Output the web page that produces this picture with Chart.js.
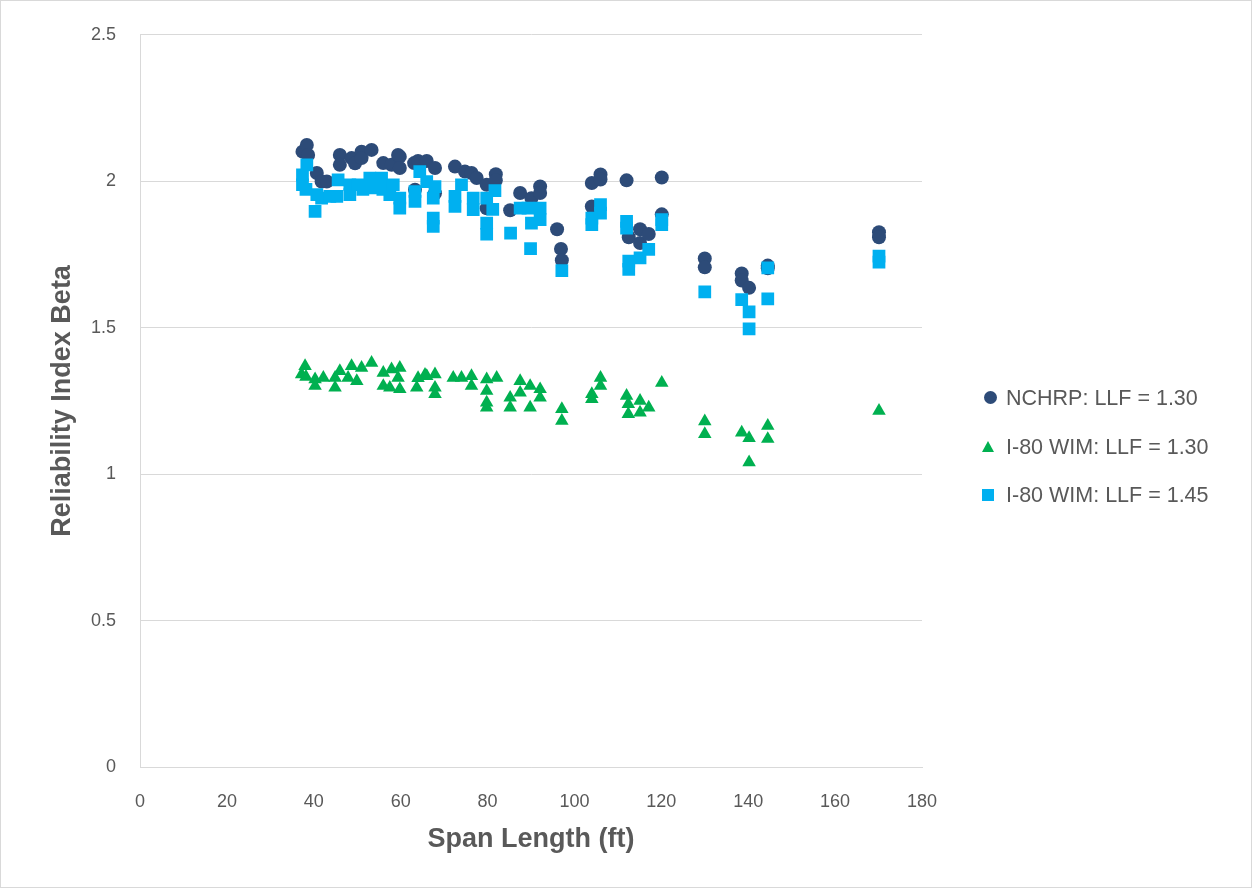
<!DOCTYPE html>
<html>
<head>
<meta charset="utf-8">
<script src="https://cdn.jsdelivr.net/npm/chart.js@4.4.1/dist/chart.umd.min.js"></script>
<style>
  html, body { margin: 0; padding: 0; background: #ffffff; }
  #wrap { position: relative; width: 1252px; height: 888px; }
  #chart { position: absolute; left: 0; top: 0; }
  #legend { position: absolute; left: 980px; top: 380px; font-family: "Liberation Sans", Arial, sans-serif;
            font-size: 21.5px; color: #595959; }
  .item { position: absolute; left: 0; white-space: nowrap; height: 24px; line-height: 24px; }
  .item span.txt { position: absolute; left: 26px; top: 0; }
  .mk { position: absolute; }
  .mk.circle { width: 13px; height: 13px; border-radius: 50%; background: #2D4B78; left: 4px; top: 5px; }
  .mk.tri { width: 0; height: 0; border-left: 6.5px solid transparent; border-right: 6.5px solid transparent;
            border-bottom: 11px solid #00B050; left: 2px; top: 6px; }
  .mk.sq { width: 12px; height: 12px; background: #00B0F0; left: 2px; top: 6px; }
</style>
</head>
<body>
<div id="wrap">
  <canvas id="chart" width="1252" height="888"></canvas>
  <div id="legend">
    <div class="item" style="top:6px"><i class="mk circle"></i><span class="txt">NCHRP: LLF = 1.30</span></div>
    <div class="item" style="top:55px"><i class="mk tri"></i><span class="txt">I-80 WIM: LLF = 1.30</span></div>
    <div class="item" style="top:103px"><i class="mk sq"></i><span class="txt">I-80 WIM: LLF = 1.45</span></div>
  </div>
</div>
<script>
// Span lengths (ft) and reliability indices for each load model
const spanNchrp = [37.4, 38.4, 38.7, 40.7, 41.8, 43.0, 46.0, 46.0, 48.7, 49.5, 51.0, 51.0, 53.3, 56.0, 57.9,
  59.8, 59.8, 63.1, 64.0, 66.0, 67.9, 67.9, 72.5, 74.8, 76.3, 77.5, 79.8, 81.9, 81.9, 79.8, 85.2, 87.5,
  90.1, 92.1, 92.1, 96.0, 96.9, 97.1, 104.0, 104.0, 106.0, 106.0, 112.0, 112.5, 115.1, 115.1, 117.1,
  120.1, 120.1, 130.0, 130.0, 138.5, 138.5, 140.2, 144.5, 144.5, 170.1, 170.1, 63.3, 59.4];
const betaNchrp = [2.101, 2.124, 2.090, 2.028, 1.999, 1.999, 2.090, 2.056, 2.079, 2.061, 2.101, 2.079, 2.107,
  2.062, 2.056, 2.084, 2.045, 2.062, 2.069, 2.069, 2.045, 1.959, 2.050, 2.033, 2.028, 2.011, 1.988, 2.024,
  2.003, 1.908, 1.901, 1.960, 1.942, 1.982, 1.960, 1.836, 1.769, 1.730, 1.994, 1.914, 2.023, 2.006, 2.003,
  1.809, 1.836, 1.789, 1.820, 2.013, 1.887, 1.736, 1.706, 1.685, 1.661, 1.636, 1.712, 1.703, 1.826, 1.809,
  1.971, 2.090];

const spanWim130 = [38.0, 37.2, 38.2, 40.3, 40.3, 42.2, 44.9, 46.0, 44.9, 48.7, 47.9, 51.0, 49.9, 53.3, 56.0,
  56.0, 57.9, 59.8, 59.4, 57.5, 59.8, 63.7, 66.0, 67.9, 67.9, 67.9, 72.1, 74.0, 76.3, 76.3, 79.8, 82.1,
  79.8, 79.8, 79.8, 85.2, 85.2, 87.5, 87.5, 89.8, 92.1, 92.1, 89.8, 97.1, 97.1, 104.0, 104.0, 106.0, 106.0,
  112.0, 112.4, 112.4, 115.1, 115.1, 117.1, 120.1, 130.0, 130.0, 138.5, 140.2, 140.2, 144.5, 144.5, 170.1,
  64.0, 65.6];
const betaWim130 = [1.369, 1.341, 1.332, 1.324, 1.301, 1.329, 1.329, 1.352, 1.295, 1.369, 1.329, 1.363, 1.318,
  1.380, 1.346, 1.301, 1.358, 1.363, 1.329, 1.295, 1.290, 1.295, 1.335, 1.341, 1.295, 1.273, 1.329, 1.329,
  1.335, 1.301, 1.324, 1.329, 1.284, 1.244, 1.227, 1.261, 1.227, 1.318, 1.278, 1.301, 1.290, 1.261, 1.227,
  1.222, 1.182, 1.273, 1.256, 1.329, 1.301, 1.267, 1.239, 1.205, 1.250, 1.210, 1.227, 1.312, 1.180, 1.137,
  1.142, 1.123, 1.040, 1.165, 1.120, 1.216, 1.328, 1.339];

const spanWim145 = [37.4, 37.4, 38.4, 38.2, 40.3, 40.7, 41.8, 43.7, 45.3, 45.6, 48.3, 48.3, 50.2, 51.3, 52.9,
  53.3, 55.6, 55.9, 57.5, 58.3, 59.8, 59.8, 63.3, 63.3, 64.4, 66.0, 67.5, 67.5, 67.5, 67.9, 72.5, 72.5,
  74.0, 76.7, 76.7, 81.7, 79.8, 81.2, 79.8, 79.8, 85.3, 87.5, 89.3, 92.1, 92.1, 90.1, 89.9, 97.1, 104.0,
  104.0, 106.0, 106.0, 112.0, 112.0, 112.5, 112.5, 115.1, 117.1, 120.1, 120.1, 130.0, 138.5, 140.2, 140.2,
  144.5, 144.5, 170.1, 170.1];
const betaWim145 = [2.022, 1.988, 2.056, 1.972, 1.897, 1.954, 1.942, 1.948, 1.948, 2.005, 1.954, 1.988, 1.988,
  1.972, 2.011, 1.977, 2.011, 1.972, 1.954, 1.988, 1.942, 1.908, 1.931, 1.965, 2.033, 1.999, 1.942, 1.874,
  1.846, 1.982, 1.948, 1.914, 1.988, 1.942, 1.903, 1.968, 1.942, 1.904, 1.857, 1.819, 1.823, 1.908, 1.908,
  1.908, 1.869, 1.857, 1.770, 1.695, 1.874, 1.852, 1.920, 1.891, 1.863, 1.840, 1.727, 1.699, 1.738, 1.767,
  1.869, 1.852, 1.622, 1.596, 1.554, 1.496, 1.704, 1.598, 1.744, 1.724];

// Axis ticks and their printed labels
const xTicks = [0, 20, 40, 60, 80, 100, 120, 140, 160, 180];
const yTicks = [0, 0.5, 1, 1.5, 2, 2.5];
const yTickLabels = ['0', '0.5', '1', '1.5', '2', '2.5'];

const toPoints = (xs, ys) => xs.map((x, i) => ({ x: x, y: ys[i] }));

const TEXT = '#595959';
const GRID = '#d9d9d9';
const FONT = '"Liberation Sans", Arial, sans-serif';

// White background and thin outer frame
const frame = {
  id: 'frame',
  beforeDraw(chart) {
    const c = chart.ctx;
    c.save();
    c.fillStyle = '#ffffff';
    c.fillRect(0, 0, chart.width, chart.height);
    c.strokeStyle = GRID;
    c.lineWidth = 1;
    c.strokeRect(0.5, 0.5, chart.width - 1, chart.height - 1);
    c.restore();
  }
};

new Chart(document.getElementById('chart'), {
  type: 'scatter',
  data: {
    datasets: [
      { label: 'NCHRP: LLF = 1.30', data: toPoints(spanNchrp, betaNchrp), pointStyle: 'circle',
        pointRadius: 7, backgroundColor: '#2D4B78', borderColor: '#2D4B78', borderWidth: 0, order: 2 },
      { label: 'I-80 WIM: LLF = 1.30', data: toPoints(spanWim130, betaWim130), pointStyle: 'triangle',
        pointRadius: 7.8, backgroundColor: '#00B050', borderColor: '#00B050', borderWidth: 0, order: 1 },
      { label: 'I-80 WIM: LLF = 1.45', data: toPoints(spanWim145, betaWim145), pointStyle: 'rect',
        pointRadius: 9, backgroundColor: '#00B0F0', borderColor: '#00B0F0', borderWidth: 0, order: 0 }
    ]
  },
  options: {
    responsive: false,
    animation: false,
    events: [],
    layout: { padding: { left: 0, top: 33, right: 330, bottom: 0 } },
    plugins: { legend: { display: false }, tooltip: { enabled: false } },
    scales: {
      x: {
        type: 'linear', min: 0, max: 180,
        afterBuildTicks: s => { s.ticks = xTicks.map(v => ({ value: v })); },
        afterFit: s => { s.height = 121; },
        grid: { display: false, drawTicks: false },
        border: { display: true, color: GRID, width: 1 },
        ticks: { color: TEXT, font: { family: FONT, size: 18 }, padding: 24, maxRotation: 0,
                 callback: v => String(v) },
        title: { display: true, text: 'Span Length (ft)', color: TEXT,
                 font: { family: FONT, size: 27, weight: 'bold' }, padding: { top: 0, bottom: 32 } }
      },
      y: {
        type: 'linear', min: 0, max: 2.5,
        afterBuildTicks: s => { s.ticks = yTicks.map(v => ({ value: v })); },
        afterFit: s => { s.width = 140; },
        grid: { color: GRID, lineWidth: 1, drawTicks: false },
        border: { display: true, color: GRID, width: 1 },
        ticks: { color: TEXT, font: { family: FONT, size: 18 }, padding: 24,
                 callback: v => yTickLabels[yTicks.indexOf(v)] },
        title: { display: true, text: 'Reliability Index Beta', color: TEXT,
                 font: { family: FONT, size: 27, weight: 'bold' }, padding: { top: 46, bottom: 0 } }
      }
    }
  },
  plugins: [frame]
});
</script>
</body>
</html>
